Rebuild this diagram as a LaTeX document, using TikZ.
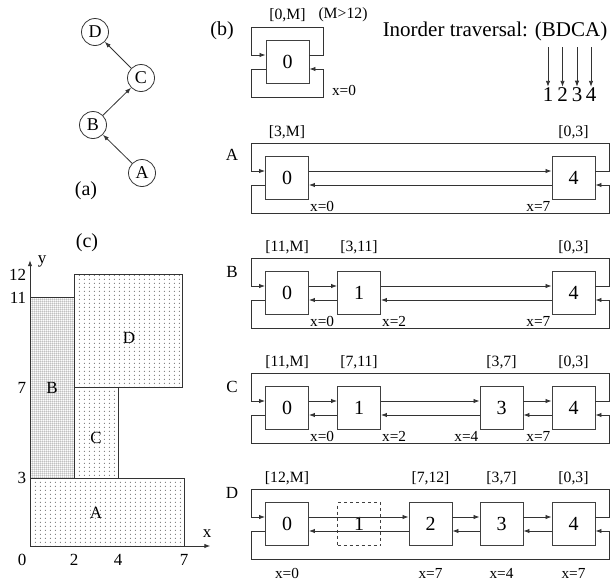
\documentclass[tikz,border=0pt]{standalone}
\usepackage{fontspec}
\setmainfont{Liberation Serif}
\usetikzlibrary{arrows.meta,positioning,patterns,patterns.meta}

\tikzdeclarepattern{
  name=sparsedots, type=uncolored,
  bounding box={(0,0) and (4.8pt,4.2pt)}, tile size={(4.8pt,4.2pt)},
  code={\fill (2.4pt,2.1pt) circle (0.55pt);}
}
\tikzdeclarepattern{
  name=densedots, type=uncolored,
  bounding box={(0,0) and (2.2pt,2.2pt)}, tile size={(2.2pt,2.2pt)},
  code={\fill (1.1pt,1.1pt) circle (0.7pt);}
}

\tikzset{
  cell/.style={draw=black!75, line width=0.9pt, minimum size=43pt, inner sep=0pt, font=\fontsize{20}{24}\selectfont},
  ghost/.style={cell, dashed},
  vert/.style={draw=black!80, circle, line width=0.8pt, minimum size=27pt, inner sep=0pt, font=\fontsize{18}{20}\selectfont},
  arr/.style={-{Latex[length=6pt,width=4.4pt]}, line width=0.8pt, draw=black!80},
  ivl/.style={font=\fontsize{15.7}{17}\selectfont, inner sep=1pt},
  xlab/.style={font=\fontsize{15.3}{17}\selectfont, inner sep=1pt},
  rowname/.style={font=\fontsize{17}{19}\selectfont, inner sep=1pt},
  tag/.style={font=\fontsize{20}{22}\selectfont, inner sep=1pt},
  big/.style={font=\fontsize{21}{24}\selectfont, inner sep=1pt},
  tick/.style={font=\fontsize{17}{19}\selectfont, inner sep=1pt},
  region/.style={draw=black!80, line width=0.9pt, pattern=sparsedots, pattern color=black!85},
  regionB/.style={region, pattern=densedots, pattern color=black!70},
  axis/.style={-{Latex[length=6pt,width=4.4pt]}, line width=1pt, draw=black!80}
}

% ring of links: #1 first cell, #2 last cell of a row
\newcommand{\ringlinks}[2]{%
  \draw[arr] ([yshift=7pt]#2.east) -| ([xshift=14pt,yshift=35pt]#2.east)
    -| ([xshift=-14pt,yshift=7pt]#1.west) -- ([yshift=7pt]#1.west);
  \draw[arr] ([yshift=-7pt]#1.west) -| ([xshift=-14pt,yshift=-35pt]#1.west)
    -| ([xshift=14pt,yshift=-7pt]#2.east) -- ([yshift=-7pt]#2.east);
}
% forward and backward link between two neighbour cells
\newcommand{\pairlink}[2]{%
  \draw[arr] ([yshift=7pt]#1.east) -- ([yshift=7pt]#2.west);
  \draw[arr] ([yshift=-7pt]#2.west) -- ([yshift=-7pt]#1.east);
}

\begin{document}
\begin{tikzpicture}[x=1pt,y=-1pt]
\useasboundingbox (0,0) rectangle (612,581);

% (a) tree
\node[vert] (tD) at (95,32) {D};
\node[vert] (tC) at (141,78) {C};
\node[vert] (tB) at (93,125) {B};
\node[vert] (tA) at (142,173) {A};
\draw[arr] (tA) -- (tB);
\draw[arr] (tB) -- (tC);
\draw[arr] (tC) -- (tD);
\node[tag] (la) at (86,191) {(a)};

% (b) empty list
\node[tag] (lb) at (222,31) {(b)};
\node[cell] (e0) at (287.5,62) {0};
\ringlinks{e0}{e0}
\node[ivl] at ([yshift=47pt]e0.center) {[0,M]};
\node[ivl] at (343,15) {(M>12)};
\node[xlab] at (344,90) {x=0};

% traversal order
\node[big] (trav) at (495,31) {Inorder traversal: (BDCA)};
\foreach \i/\px in {1/548,2/562.5,3/577,4/591} {
  \coordinate (t\i) at (\px,47);
  \node[big] (n\i) at (\px,95) {\i};
  \draw[arr] (t\i) -- (n\i.north);
}

% row A
\node[rowname] at (232,155) {A};
\node[cell] (a0) at (287,178) {0};
\node[cell] (a4) at (573.5,178) {4};
\pairlink{a0}{a4}
\ringlinks{a0}{a4}
\node[ivl] at ([yshift=46pt]a0.center) {[3,M]};
\node[ivl] at ([yshift=46pt]a4.center) {[0,3]};
\node[xlab, anchor=north west] at (a0.south east) {x=0};
\node[xlab, anchor=north east] at (a4.south west) {x=7};

% row B
\node[rowname] at (232,272) {B};
\node[cell] (b0) at (287,293) {0};
\node[cell] (b1) at (359,293) {1};
\node[cell] (b4) at (573.5,293) {4};
\pairlink{b0}{b1}
\pairlink{b1}{b4}
\ringlinks{b0}{b4}
\node[ivl] at ([yshift=46pt]b0.center) {[11,M]};
\node[ivl] at ([yshift=46pt]b1.center) {[3,11]};
\node[ivl] at ([yshift=46pt]b4.center) {[0,3]};
\node[xlab, anchor=north west] at (b0.south east) {x=0};
\node[xlab, anchor=north west] at (b1.south east) {x=2};
\node[xlab, anchor=north east] at (b4.south west) {x=7};

% row C
\node[rowname] at (232,387) {C};
\node[cell] (c0) at (287,408) {0};
\node[cell] (c1) at (359,408) {1};
\node[cell] (c3) at (501.5,408) {3};
\node[cell] (c4) at (573.5,408) {4};
\pairlink{c0}{c1}
\pairlink{c1}{c3}
\pairlink{c3}{c4}
\ringlinks{c0}{c4}
\node[ivl] at ([yshift=46pt]c0.center) {[11,M]};
\node[ivl] at ([yshift=46pt]c1.center) {[7,11]};
\node[ivl] at ([yshift=46pt]c3.center) {[3,7]};
\node[ivl] at ([yshift=46pt]c4.center) {[0,3]};
\node[xlab, anchor=north west] at (c0.south east) {x=0};
\node[xlab, anchor=north west] at (c1.south east) {x=2};
\node[xlab, anchor=north east] at (c3.south west) {x=4};
\node[xlab, anchor=north east] at (c4.south west) {x=7};

% row D
\node[rowname] at (232,493) {D};
\node[cell] (d0) at (287,524) {0};
\node[ghost] (d1) at (359,524) {1};
\node[cell] (d2) at (430.5,524) {2};
\node[cell] (d3) at (501.5,524) {3};
\node[cell] (d4) at (573.5,524) {4};
\pairlink{d0}{d2}
\pairlink{d2}{d3}
\pairlink{d3}{d4}
\ringlinks{d0}{d4}
\node[ivl] at ([yshift=46pt]d0.center) {[12,M]};
\node[ivl] at ([yshift=46pt]d2.center) {[7,12]};
\node[ivl] at ([yshift=46pt]d3.center) {[3,7]};
\node[ivl] at ([yshift=46pt]d4.center) {[0,3]};
\node[xlab] at ([yshift=-49pt]d0.center) {x=0};
\node[xlab] at ([yshift=-49pt]d2.center) {x=7};
\node[xlab] at ([yshift=-49pt]d3.center) {x=4};
\node[xlab] at ([yshift=-49pt]d4.center) {x=7};

% (c) placement of the rectangles
\node[tag] (lc) at (87,243) {(c)};
\begin{scope}[shift={(30,546)}, x=22pt, y=22.6pt]
  \draw[region] (0,0) rectangle (7,3);
  \draw[regionB] (0,3) rectangle (2,11);
  \draw[region] (2,3) rectangle (4,7);
  \draw[region] (2,7) rectangle (6.95,12);
  \node[tick] (rA) at (3,1.45) {A};
  \node[tick] (rB) at (1,7) {B};
  \node[tick] (rC) at (3,4.8) {C};
  \node[tick] (rD) at (4.5,9.2) {D};
  \coordinate (o) at (0,0);
  \coordinate (xend) at (8.2,0);
  \coordinate (yend) at (0,12.65);
  \draw[axis] (o) -- (xend);
  \draw[axis] (o) -- (yend);
  \node[tick] at (8.05,0.57) {x};
  \node[tick] at (0.55,12.57) {y};
  \node[tick] at (-0.36,-0.6) {0};
  \foreach \v in {2,4,7} \node[tick] at (\v,-0.6) {\v};
  \foreach \v in {3,7,11,12} \node[tick, anchor=east] at (-0.12,\v) {\v};
\end{scope}
\end{tikzpicture}
\end{document}
